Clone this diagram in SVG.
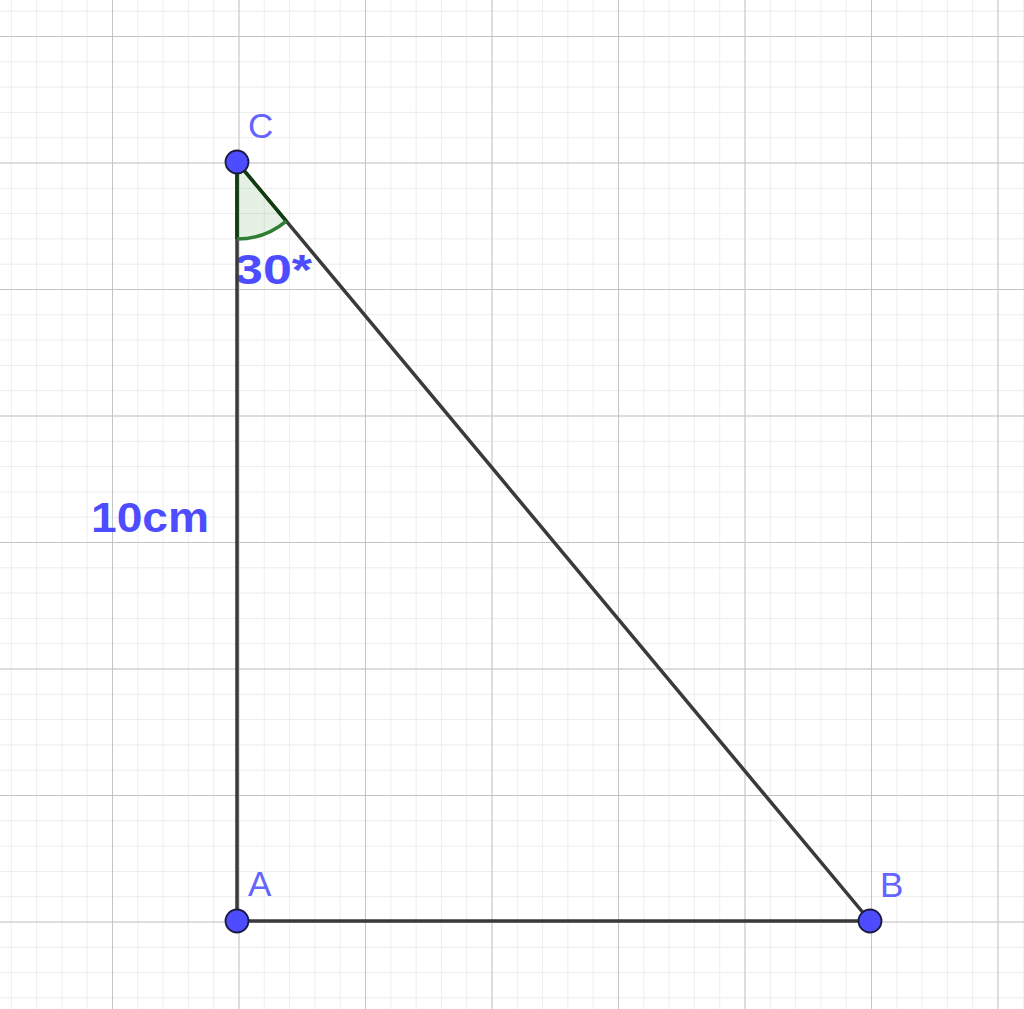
<svg xmlns="http://www.w3.org/2000/svg" width="1024" height="1009" viewBox="0 0 1024 1009">
<defs>
<pattern id="minor" x="-14.5" y="-90.5" width="25.3" height="25.3" patternUnits="userSpaceOnUse">
<path d="M0 0 H25.3 M0 0 V25.3" fill="none" stroke="#e6e6e6" stroke-width="1.3"/>
</pattern>
<pattern id="major" x="-14.5" y="-90.5" width="126.5" height="126.5" patternUnits="userSpaceOnUse">
<path d="M0 0 H126.5 M0 0 V126.5" fill="none" stroke="#c4c4c4" stroke-width="2"/>
</pattern>
</defs>
<style>
.seg{stroke:#3a3a3a;stroke-width:3.5;fill:none;stroke-linecap:round}
.pt{fill:#4d4dff;stroke:#1a1a40;stroke-width:1.8}
.lbl{font-family:"Liberation Sans",Arial,sans-serif;font-size:35px;fill:#6464ff}
.val{font-family:"Liberation Sans",Arial,sans-serif;font-size:43px;font-weight:bold;fill:#4d4dff}
</style>
<rect width="1024" height="1009" fill="#ffffff"/>
<rect width="1024" height="1009" fill="url(#minor)"/>
<rect width="1024" height="1009" fill="url(#major)"/>
<g id="label-30"><text class="val" x="234" y="284" textLength="78" lengthAdjust="spacingAndGlyphs">30*</text></g>
<g id="label-10cm"><text class="val" x="91" y="532" textLength="118" lengthAdjust="spacingAndGlyphs">10cm</text></g>
<g id="connectors">
<line class="seg" x1="237" y1="162" x2="237" y2="921"/>
<line class="seg" x1="237" y1="921" x2="870" y2="921"/>
<line class="seg" x1="237" y1="162" x2="870" y2="921"/>
</g>
<g id="angle">
<path d="M237 162 L237 239 A77 77 0 0 0 286.3 221.1 Z" fill="#2e8b2e" fill-opacity="0.12" stroke="none"/>
<line x1="237" y1="162" x2="237" y2="239" stroke="#0f3d0f" stroke-width="3.5"/>
<line x1="237" y1="162" x2="286.3" y2="221.1" stroke="#0f3d0f" stroke-width="3.5"/>
<path d="M237 239 A77 77 0 0 0 286.3 221.1" fill="none" stroke="#2e7d32" stroke-width="3.5"/>
</g>
<g id="C"><circle class="pt" cx="237" cy="162" r="11.5"/><text class="lbl" x="248" y="138">C</text></g>
<g id="A"><circle class="pt" cx="237" cy="921" r="11.5"/><text class="lbl" x="248" y="896">A</text></g>
<g id="B"><circle class="pt" cx="870" cy="921" r="11.5"/><text class="lbl" x="880" y="897">B</text></g>
</svg>
